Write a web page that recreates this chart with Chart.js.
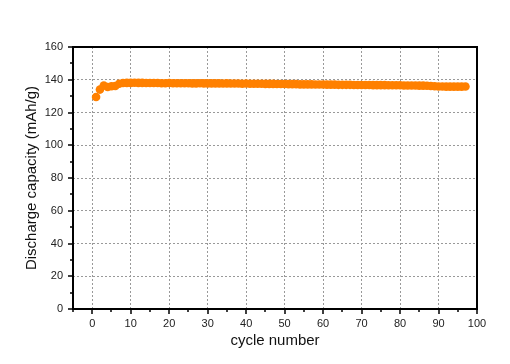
<!DOCTYPE html>
<html>
<head>
<meta charset="utf-8">
<script src="https://cdn.jsdelivr.net/npm/chart.js@4"></script>
<style>
html,body{margin:0;padding:0;background:#fff;}
#wrap{width:510px;height:364px;}
</style>
</head>
<body>
<div id="wrap"><canvas id="c" width="510" height="364"></canvas></div>
<script>
const cycles = [];
for (let i = 1; i <= 97; i++) cycles.push(i);
const capacity = [
 129.5,134.0,136.5,135.6,136.0,136.2,137.6,138.0,138.1,138.1,
 138.2,138.1,138.1,138.0,138.0,138.0,138.0,137.9,137.9,138.0,
 137.9,137.9,137.9,137.9,137.9,137.8,137.8,137.9,137.8,137.8,
 137.8,137.8,137.8,137.7,137.8,137.7,137.7,137.7,137.6,137.7,
 137.6,137.6,137.6,137.6,137.5,137.5,137.5,137.4,137.4,137.4,
 137.3,137.3,137.3,137.2,137.2,137.2,137.2,137.1,137.1,137.1,
 137.0,137.0,137.0,136.9,136.9,136.9,136.9,136.8,136.8,136.8,
 136.8,136.8,136.7,136.7,136.7,136.7,136.6,136.6,136.6,136.6,
 136.5,136.5,136.5,136.5,136.4,136.4,136.3,136.2,136.0,135.9,
 135.9,135.8,135.8,135.8,135.8,135.8,135.9
];
const xTicks = [0,10,20,30,40,50,60,70,80,90,100];
const yTicks = [0,20,40,60,80,100,120,140,160];
const xLabel = 'cycle number';
const yLabel = 'Discharge capacity (mAh/g)';

const FONT = "'Liberation Sans', Arial, sans-serif";

const frameTicks = {
  id: 'frameTicks',
  afterDraw(chart) {
    const {ctx, chartArea: a, scales: {x, y}} = chart;
    ctx.save();
    ctx.strokeStyle = '#000';
    ctx.lineWidth = 2;
    ctx.strokeRect(a.left, a.top, a.right - a.left, a.bottom - a.top);
    ctx.lineWidth = 1.5;
    ctx.beginPath();
    for (let v = -5; v <= 100; v += 5) {
      const px = Math.round(x.getPixelForValue(v));
      const major = xTicks.includes(v);
      ctx.moveTo(px, a.bottom);
      ctx.lineTo(px, a.bottom + (major ? 5 : 3));
    }
    for (let v = 0; v <= 160; v += 10) {
      const py = Math.round(y.getPixelForValue(v));
      const major = yTicks.includes(v);
      ctx.moveTo(a.left, py);
      ctx.lineTo(a.left - (major ? 5 : 3), py);
    }
    ctx.stroke();
    ctx.restore();
  }
};

new Chart(document.getElementById('c'), {
  type: 'scatter',
  data: {
    datasets: [{
      data: cycles.map((c, i) => ({x: c, y: capacity[i]})),
      backgroundColor: '#FF8000',
      borderColor: '#FF8000',
      pointRadius: 4.3,
      pointBorderWidth: 0
    }]
  },
  options: {
    responsive: false,
    animation: false,
    layout: {padding: {top: 47, right: 33, left: 0, bottom: 0}},
    plugins: {legend: {display: false}, tooltip: {enabled: false}},
    scales: {
      x: {
        type: 'linear', min: -5, max: 100,
        afterBuildTicks(s) { s.ticks = xTicks.map(v => ({value: v})); },
        afterFit(s) { s.height = 55; },
        grid: {color: '#999', lineWidth: 1, drawTicks: false},
        border: {display: false, dash: [2, 2]},
        ticks: {color: '#222', font: {family: FONT, size: 11}, padding: 8, maxRotation: 0},
        title: {display: true, text: xLabel, color: '#111', font: {family: FONT, size: 15}, padding: {top: 0, bottom: 14}}
      },
      y: {
        type: 'linear', min: 0, max: 160,
        afterBuildTicks(s) { s.ticks = yTicks.map(v => ({value: v})); },
        afterFit(s) { s.width = 73; },
        grid: {color: '#999', lineWidth: 1, drawTicks: false},
        border: {display: false, dash: [2, 2]},
        ticks: {color: '#222', font: {family: FONT, size: 11}, padding: 10},
        title: {display: true, text: yLabel, color: '#111', font: {family: FONT, size: 15}, padding: {top: 23, bottom: 23}}
      }
    }
  },
  plugins: [frameTicks]
});
</script>
</body>
</html>
